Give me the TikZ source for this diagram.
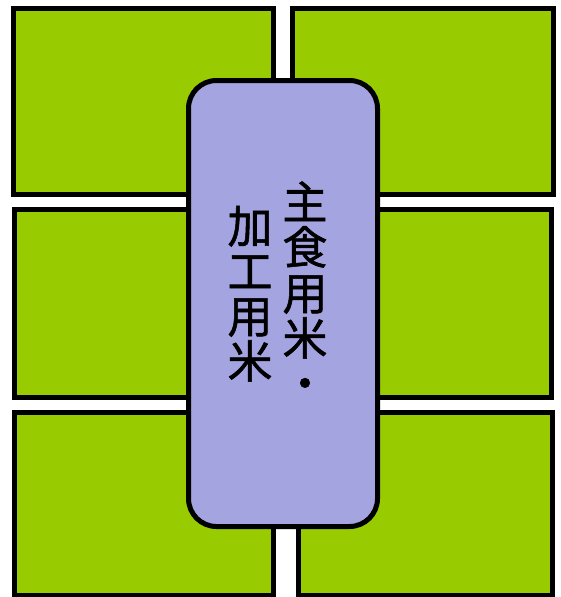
\documentclass[tikz,border=0pt]{standalone}
\usepackage{fontspec}
\newfontfamily\cjk[FakeBold=1.2]{Noto Sans CJK JP}
\definecolor{field}{RGB}{153,204,0}
\definecolor{lav}{RGB}{164,164,224}
\begin{document}
\begin{tikzpicture}[x=1pt,y=-1pt,
  plot/.style={draw=black,line width=5pt,fill=field},
  rice/.style={draw=black,line width=5pt,fill=lav,rounded corners=28pt},
  ch/.style={font=\cjk\fontsize{45}{45}\selectfont,inner sep=0pt,text height=38pt,text depth=6pt,anchor=center}]
\useasboundingbox (0,0) rectangle (560,597);
% fields
\draw[plot] (13.5,8.5) rectangle (273.5,194.5);
\draw[plot] (292.5,8.5) rectangle (553.5,194.5);
\draw[plot] (14,209.5) rectangle (273.5,397.5);
\draw[plot] (292.5,209.5) rectangle (551.5,397.5);
\draw[plot] (14,412.5) rectangle (273.5,595);
\draw[plot] (298.5,412.5) rectangle (552.5,595);
% central box
\draw[rice] (188.5,80.5) rectangle (377.5,526.5);
% right column
\node[ch] (r1) at (305,203) {主};
\node[ch] (r2) at (305,248) {食};
\node[ch] (r3) at (305,294) {用};
\node[ch] (r4) at (305,339) {米};
\node[ch] (r5) at (305,384) {・};
% left column
\node[ch] (l1) at (250,227) {加};
\node[ch] (l2) at (250,272) {工};
\node[ch] (l3) at (250,317) {用};
\node[ch] (l4) at (250,362) {米};
\end{tikzpicture}
\end{document}
